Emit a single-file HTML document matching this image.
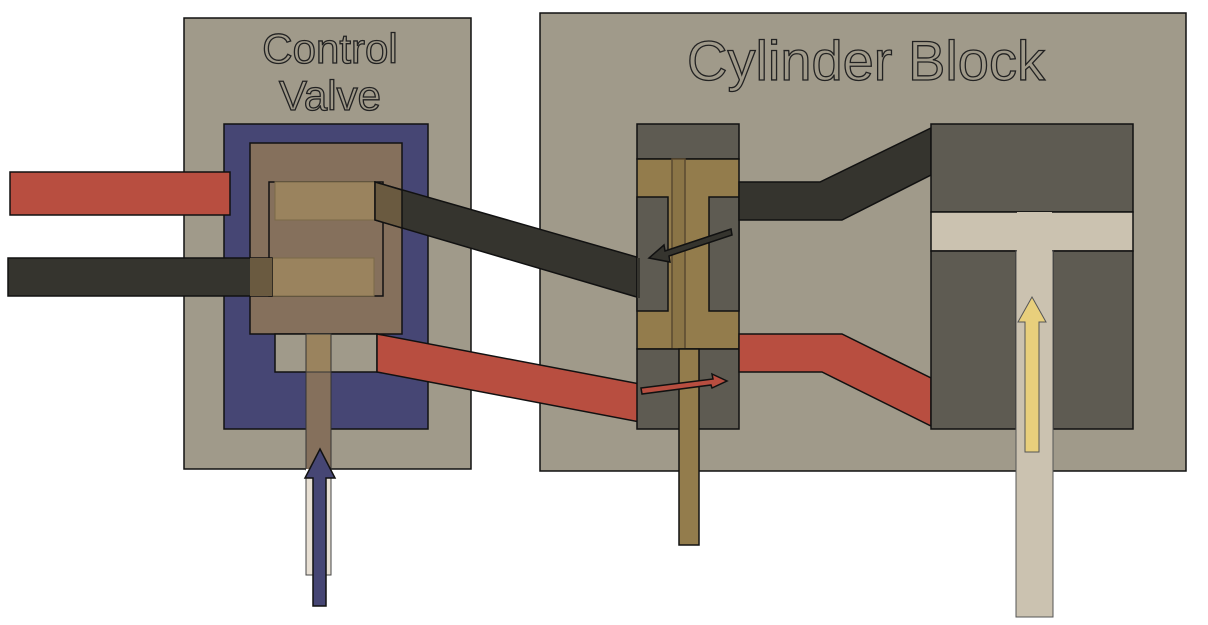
<!DOCTYPE html>
<html><head><style>body{margin:0;background:#fff}svg{display:block}
text{font-family:"Liberation Sans",sans-serif;fill:#a09a8a;stroke:#222;stroke-width:1.3}</style></head>
<body>
<svg width="1208" height="625" viewBox="0 0 1208 625" xmlns="http://www.w3.org/2000/svg" stroke="#111" stroke-width="1.5">
<!-- Control valve -->
<rect x="184" y="18" width="287" height="451" fill="#a09a8a"/>
<text x="330" y="63" font-size="42" text-anchor="middle">Control</text>
<text x="330" y="110" font-size="42" text-anchor="middle">Valve</text>
<rect x="224" y="124" width="204" height="305" fill="#464674"/>
<rect x="250" y="143" width="152" height="191" fill="#85705c"/>
<rect x="269" y="182" width="114" height="114" fill="#85705c"/>
<rect x="275" y="182" width="100" height="38" fill="#9a835e" stroke="#7a6a48" stroke-width="1"/>
<rect x="272" y="258" width="102" height="38" fill="#9a835e" stroke="#7a6a48" stroke-width="1"/>
<rect x="275" y="334" width="102" height="38" fill="#a09a8a"/>
<rect x="10" y="172" width="220" height="43" fill="#b84e40"/>
<rect x="8" y="258" width="264" height="38" fill="#35342e"/>
<rect x="250" y="258" width="22" height="38" fill="#6a5a40" stroke="none"/>
<rect x="306" y="334" width="25" height="38" fill="#9a835e" stroke="#333" stroke-width="1"/>
<rect x="306" y="372" width="25" height="98" fill="#85705c" stroke="#333" stroke-width="1"/>
<rect x="306" y="478" width="25" height="97" fill="#e8e0d4" stroke="#444" stroke-width="1"/>
<rect x="306" y="469" width="25" height="9" fill="#fff" stroke="none"/>
<polygon points="320,449 335,478 326,478 326,606 313,606 313,478 305,478" fill="#464674"/>
<!-- Cylinder block -->
<rect x="540" y="13" width="646" height="458" fill="#a09a8a"/>
<text x="866" y="80" font-size="56" text-anchor="middle">Cylinder Block</text>
<polygon points="375,182 640,258 640,298 375,220" fill="#35342e"/>
<polygon points="375,182 402,190 402,228 375,220" fill="#6a5a40"/>
<polygon points="377,334 640,384 640,422 377,372" fill="#b84e40"/>
<rect x="637" y="124" width="102" height="35" fill="#5e5b52"/>
<rect x="637" y="159" width="102" height="190" fill="#937c4c"/>
<rect x="637" y="197" width="31" height="114" fill="#5e5b52"/>
<rect x="709" y="197" width="30" height="114" fill="#5e5b52"/>
<rect x="672" y="159" width="13" height="190" fill="#8a7446" stroke="#5a4a30"/>
<rect x="637" y="349" width="102" height="80" fill="#5e5b52"/>
<rect x="679" y="349" width="20" height="196" fill="#937c4c"/>
<polygon points="637,258 640,258 640,298 637,298" fill="#35342e" stroke="none"/>
<polygon points="731,229 732,235 669,256 670,262 649,258 664,245 665,251" fill="#35342e"/>
<polygon points="641,388 713,379 712,374 727,381 712,388 711,385 642,394" fill="#b84e40"/>
<polygon points="739,182 820,182 931,128 931,175 842,220 739,220" fill="#35342e"/>
<polygon points="739,334 842,334 931,378 931,426 822,372 739,372" fill="#b84e40"/>
<rect x="931" y="124" width="202" height="88" fill="#5e5b52"/>
<rect x="931" y="212" width="202" height="39" fill="#cbc2b0"/>
<rect x="931" y="251" width="85" height="178" fill="#5e5b52"/>
<rect x="1053" y="251" width="80" height="178" fill="#5e5b52"/>
<rect x="1016" y="251" width="37" height="366" fill="#cbc2b0" stroke="#555" stroke-width="1"/>
<rect x="1017" y="212" width="35" height="40" fill="#cbc2b0" stroke="none"/>
<polygon points="1032,297 1046,322 1039,322 1039,452 1025,452 1025,322 1018,322" fill="#e8cf7c" stroke="#555" stroke-width="1"/>
</svg>
</body></html>
